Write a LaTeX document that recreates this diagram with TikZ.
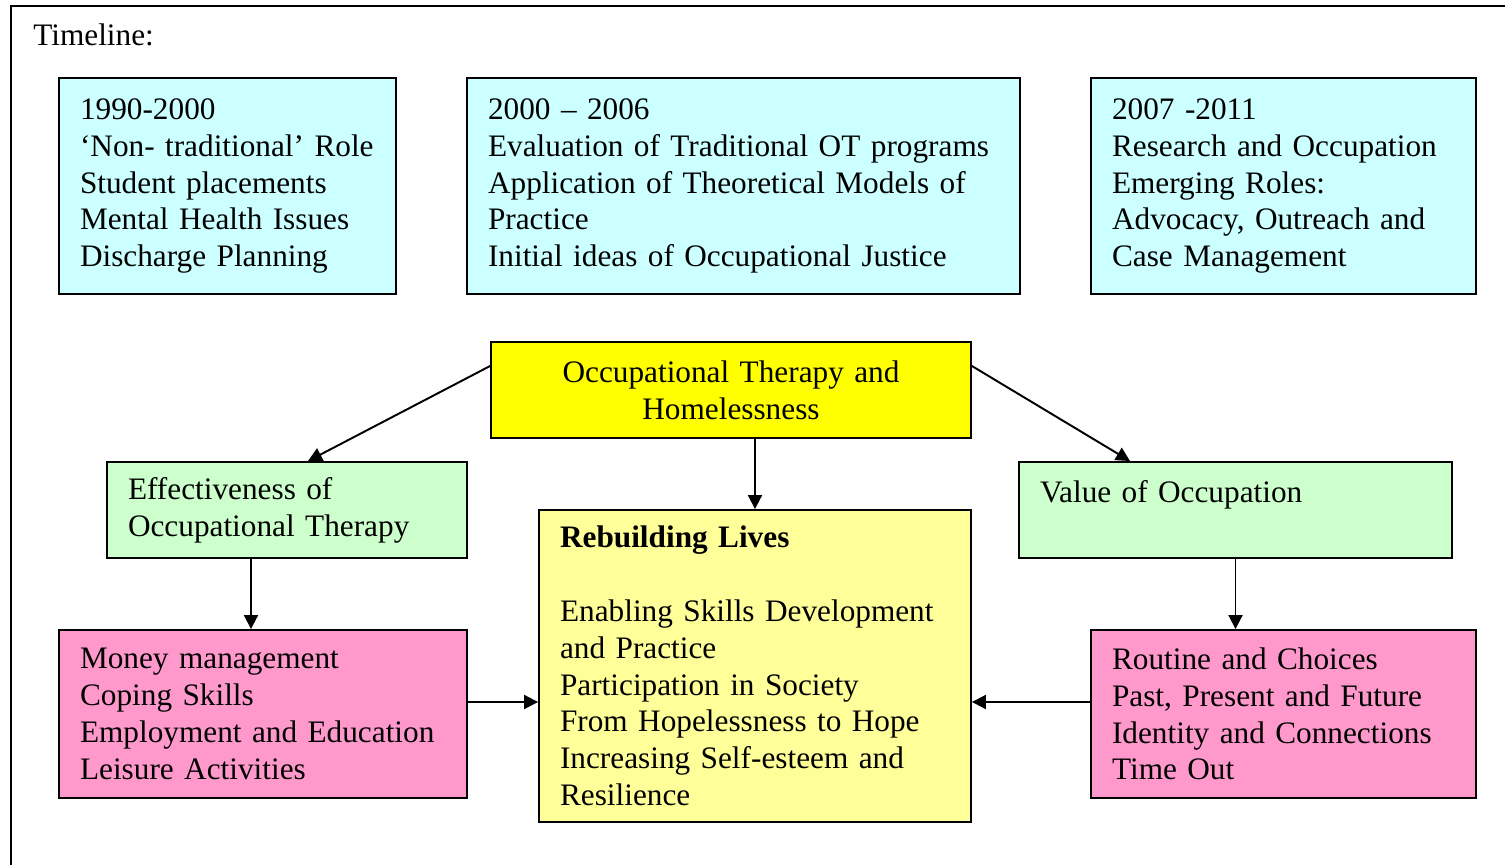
\documentclass[tikz,border=0pt]{standalone}
\usepackage{fontspec}
\setmainfont{Liberation Serif}
\usetikzlibrary{arrows.meta}

\definecolor{tlcyan}{HTML}{CCFFFF}
\definecolor{topyellow}{HTML}{FFFF00}
\definecolor{midgreen}{HTML}{CCFFCC}
\definecolor{lowpink}{HTML}{FF99CC}
\definecolor{coreyellow}{HTML}{FFFF99}

\begin{document}
\begin{tikzpicture}[x=0.02cm,y=-0.02cm,
            box/.style={draw, line width=1.1pt, inner xsep=0.42cm, inner ysep=0pt,
                align=left, font=\fontsize{17.8}{20.95}\selectfont},
            link/.style={line width=1.1pt, -{Triangle[length=0.28cm,width=0.28cm]}}]
            \useasboundingbox (0,0) rectangle (1505,865);
            \draw[line width=1.3pt] (11,880) |- (1520,6);
            \node[anchor=base west, inner sep=0pt, font=\fontsize{17.8}{20.95}\selectfont] (title) at (33,46) {Timeline:};

            \node[box, fill=tlcyan, text width=5.9cm, minimum height=4.32cm] (p1) at (227.5,186)
                {1990-2000\\\mbox{‘Non- traditional’ Role}\\Student placements\\Mental Health Issues\\Discharge Planning};
            \node[box, fill=tlcyan, text width=10.22cm, minimum height=4.32cm] (p2) at (743.5,186)
                {2000 – 2006\\Evaluation of Traditional OT programs\\Application of Theoretical Models of\\Practice\\Initial ideas of Occupational Justice};
            \node[box, fill=tlcyan, text width=6.86cm, minimum height=4.32cm] (p3) at (1283.5,186)
                {2007 -2011\\Research and Occupation\\Emerging Roles:\\Advocacy, Outreach and\\Case Management};

            \node[box, fill=topyellow, align=center, text width=8.76cm, minimum height=1.92cm] (ot) at (731,390)
                {Occupational Therapy and\\Homelessness};
            \node[box, fill=midgreen, text width=6.36cm, minimum height=1.92cm] (eff) at (287,510)
                {Effectiveness of\\Occupational Therapy};
            \node[box, fill=midgreen, text width=7.82cm, minimum height=1.92cm] (val) at (1235.5,510)
                {Value of Occupation\\\mbox{}};
            \node[box, fill=coreyellow, text width=7.8cm, minimum height=6.24cm] (lives) at (755,666)
                {\textbf{Rebuilding Lives}\\[20.95pt]Enabling Skills Development\\and Practice\\Participation in Society\\From Hopelessness to Hope\\Increasing Self-esteem and\\Resilience};
            \node[box, fill=lowpink, text width=7.32cm, minimum height=3.36cm] (skills) at (263,714)
                {Money management\\Coping Skills\\Employment and Education\\Leisure Activities};
            \node[box, fill=lowpink, text width=6.86cm, minimum height=3.36cm] (routine) at (1283.5,714)
                {Routine and Choices\\Past, Present and Future\\Identity and Connections\\Time Out};

            \draw[link] ([yshift=0.48cm]ot.west) -- ([xshift=0.42cm]eff.north);
            \draw[link] ([yshift=0.48cm]ot.east) -- ([xshift=-2.11cm]val.north);
            \draw[link] (lives.north |- ot.south) -- (lives.north);
            \draw[link] ([xshift=-0.24cm]skills.north |- eff.south) -- ([xshift=-0.24cm]skills.north);
            \draw[link] (val.south) -- (val.south |- routine.north);
            \draw[link] ([yshift=0.24cm]skills.east) -- ([yshift=0.24cm]skills.east -| lives.west);
            \draw[link] ([yshift=0.24cm]routine.west) -- ([yshift=0.24cm]routine.west -| lives.east);
        \end{tikzpicture}
\end{document}
